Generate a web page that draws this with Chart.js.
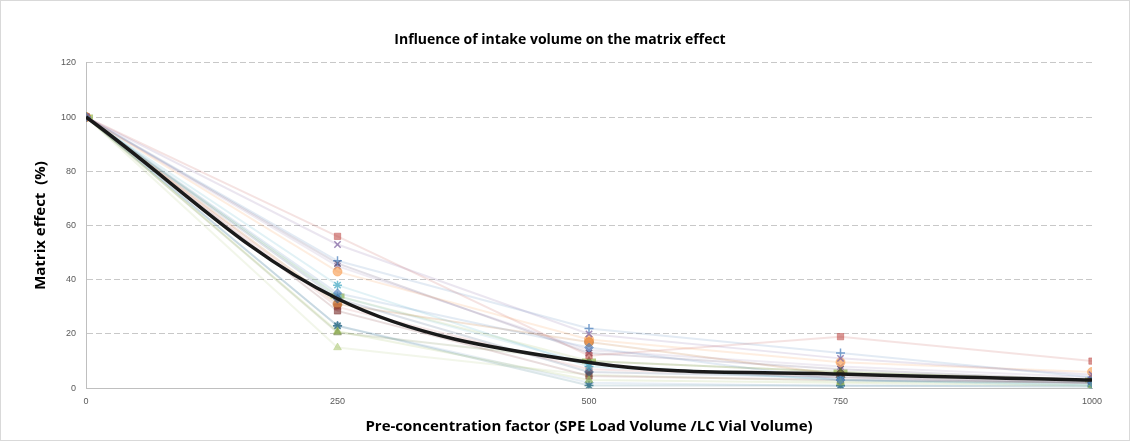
<!DOCTYPE html>
<html>
<head>
<meta charset="utf-8">
<script src="https://cdn.jsdelivr.net/npm/chart.js@4.4.0/dist/chart.umd.min.js"></script>
<style>
  html, body { margin: 0; padding: 0; background: #fff; }
  #wrap { position: relative; width: 1128px; height: 439px; border: 1px solid #d9d9d9; }
</style>
</head>
<body>
<div id="wrap"><canvas id="chart" width="1128" height="439"></canvas></div>
<script>
// pre-concentration factors (x)
const factors = [0, 250, 500, 750, 1000];

// matrix effect (%) per compound
const s1 = [100, 35, 15, 3, 2];
const s2 = [100, 56, 12, 19, 10];
const s3 = [100, 21, 3, 2, 1];
const s4 = [100, 53, 20, 11, 5];
const s5 = [100, 38, 8, 3, 1];
const s6 = [100, 43, 18, 9.6, 6];
const s7 = [100, 47, 22, 13, 4];
const s8 = [100, 33, 6, 4, 2];
const s9 = [100, 28.5, 4.5, 3, 2];
const s10 = [100, 20.5, 10, 6, 3];
const s11 = [100, 46, 13, 7, 3];
const s12 = [100, 23, 1, 1, 0.5];
const s13 = [100, 31, 17, 5, 3];
const s14 = [100, 23, 2, 0.8, 1];
const s15 = [100, 30, 7, 4, 2];
const s16 = [100, 15, 5, 2.5, 2];
const s17 = [100, 45, 14, 8, 4];
const s18 = [100, 34, 9, 3, 1.5];
const s19 = [100, 34, 10, 6, 3];
const average = [100, 33, 9.5, 5.2, 3];

const yTicks = [0, 20, 40, 60, 80, 100, 120];

const seriesList = [s1, s2, s3, s4, s5, s6, s7, s8, s9, s10, s11, s12, s13, s14, s15, s16, s17, s18, s19];
const palette = ['#4F81BD', '#C0504D', '#9BBB59', '#8064A2', '#4BACC6', '#F79646',
                 '#4F81BD', '#2C4D75', '#772C2A', '#5F7530', '#4D3B62', '#276A7C', '#B65708',
                 '#729ACA', '#CD7371', '#AFC97A', '#9983B5', '#6FBDD1', '#9BBB59'];
const shapes = ['rectRot', 'rect', 'triangle', 'crossRot', 'star', 'circle', 'cross',
                'rectRot', 'rect', 'triangle', 'crossRot', 'star', 'circle',
                'rectRot', 'rect', 'triangle', 'crossRot', 'star', 'line'];

function alpha(hex, a) {
  const n = parseInt(hex.slice(1), 16);
  return `rgba(${n >> 16},${(n >> 8) & 255},${n & 255},${a})`;
}

const datasets = seriesList.map((vals, i) => {
  const c = palette[i];
  const isLine = shapes[i] === 'line';
  const isCross = ['crossRot', 'cross', 'star'].includes(shapes[i]);
  return {
    label: 'Compound ' + (i + 1),
    data: vals.map((v, j) => ({ x: factors[j], y: v })),
    borderColor: alpha(c, 0.16),
    backgroundColor: alpha(c, 0.16),
    borderWidth: 2,
    pointStyle: shapes[i],
    pointRadius: isLine ? 7 : 4.5,
    pointBackgroundColor: alpha(c, 0.6),
    pointBorderColor: alpha(c, isCross || isLine ? 0.75 : 0.45),
    pointBorderWidth: isLine ? 5 : (isCross ? 1.5 : 1),
    tension: 0,
    order: 2
  };
});

datasets.push({
  label: 'Average',
  data: average.map((v, j) => ({ x: factors[j], y: v })),
  borderColor: '#1a1a1a',
  borderWidth: 3.5,
  pointRadius: 0,
  tension: 0.35,
  order: 1
});

new Chart(document.getElementById('chart'), {
  type: 'line',
  data: { datasets },
  options: {
    responsive: false,
    animation: false,
    layout: { padding: { left: 27, right: 37, top: 13, bottom: 0 } },
    plugins: {
      legend: { display: false },
      tooltip: { enabled: false },
      title: {
        display: true,
        text: 'Influence of intake volume on the matrix effect',
        color: '#000',
        font: { family: 'Open Sans', size: 14, weight: 'bold' },
        padding: { top: 18, bottom: 14 }
      }
    },
    scales: {
      x: {
        type: 'linear',
        min: 0,
        max: 1000,
        afterBuildTicks: axis => { axis.ticks = factors.map(v => ({ value: v })); },
        grid: { display: false, drawTicks: false },
        border: { color: '#bfbfbf' },
        ticks: {
          color: '#595959',
          font: { family: 'Liberation Sans Narrow, Liberation Sans', size: 9 },
          padding: 8,
          maxRotation: 0,
          callback: v => String(v)
        },
        title: {
          display: true,
          text: 'Pre-concentration factor (SPE Load Volume /LC Vial Volume)',
          color: '#000',
          font: { family: 'Open Sans', size: 15, weight: 'bold' },
          padding: { top: 3 }
        }
      },
      y: {
        min: 0,
        max: 120,
        afterBuildTicks: axis => { axis.ticks = yTicks.map(v => ({ value: v })); },
        grid: { color: '#c8c8c8', drawTicks: false },
        border: { color: '#bfbfbf', dash: [6, 3] },
        ticks: { color: '#595959', font: { family: 'Liberation Sans Narrow, Liberation Sans', size: 9 }, padding: 10 },
        title: {
          display: true,
          text: 'Matrix effect  (%)',
          color: '#000',
          font: { family: 'Open Sans', size: 15, weight: 'bold' },
          padding: { bottom: 1 }
        }
      }
    }
  }
});
</script>
</body>
</html>
